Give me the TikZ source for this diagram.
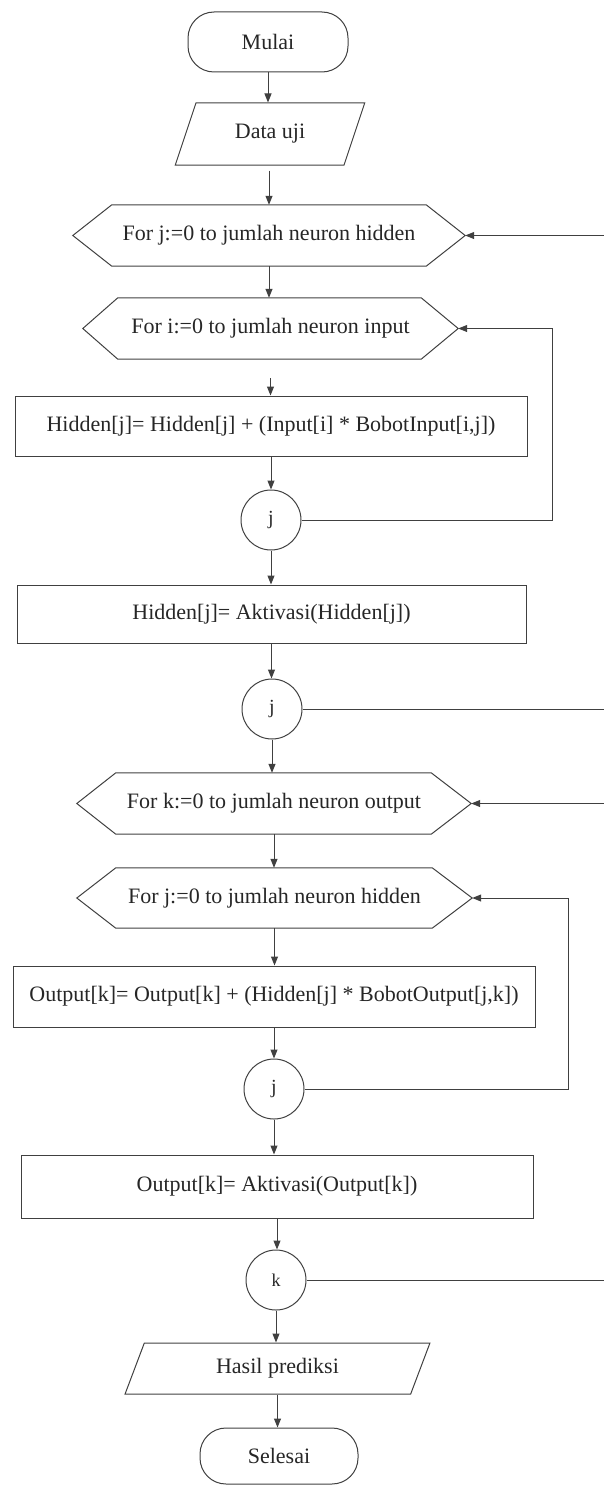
\documentclass[tikz,border=0pt]{standalone}
\usepackage{fontspec}
\setmainfont{Liberation Serif}
\usetikzlibrary{arrows.meta,shapes.geometric}
\begin{document}
\begin{tikzpicture}[x=1pt,y=-1pt,
  every node/.style={font=\fontsize{22}{26}\selectfont, text=black!85},
  ln/.style={draw=black!75, line width=1pt},
  arr/.style={ln, -{Triangle[length=9pt,width=7pt]}},
  term/.style={ln, rectangle, rounded corners=26pt, minimum height=60pt, inner sep=0},
  proc/.style={ln, rectangle, inner sep=0},
  io/.style={ln, trapezium, trapezium stretches=true, inner sep=0},
  conn/.style={ln, circle, minimum size=60pt, inner sep=0, font=\fontsize{20}{24}\selectfont},
  hexa/.style={rectangle, inner sep=0, minimum height=61pt}
]
\useasboundingbox (0,0) rectangle (604,1485);
\clip (0,0) rectangle (604,1485);

% nodes
\node[term, minimum width=160pt] (mulai) at (268,42) {Mulai};
\node[io, trapezium left angle=63, trapezium right angle=117, minimum width=190pt, minimum height=62pt] (data) at (270,134) {Data uji};

\node[hexa, minimum width=392pt] (h1) at (269,235.5) {For j:=0 to jumlah neuron hidden};
\draw[ln] (h1.west) -- ([xshift=39pt]h1.north west) -- ([xshift=-39pt]h1.north east) -- (h1.east) -- ([xshift=-39pt]h1.south east) -- ([xshift=39pt]h1.south west) -- cycle;

\node[hexa, minimum width=375pt] (h2) at (270.5,328.5) {For i:=0 to jumlah neuron input};
\draw[ln] (h2.west) -- ([xshift=35pt]h2.north west) -- ([xshift=-37pt]h2.north east) -- (h2.east) -- ([xshift=-37pt]h2.south east) -- ([xshift=35pt]h2.south west) -- cycle;

\node[proc, minimum width=512pt, minimum height=60pt] (b1) at (271,426) {Hidden[j]= Hidden[j] + (Input[i] * BobotInput[i,j])};
\node[conn] (c1) at (271,520) {j};
\node[proc, minimum width=509pt, minimum height=58pt] (b2) at (271.5,614) {Hidden[j]= Aktivasi(Hidden[j])};
\node[conn] (c2) at (272,709) {j};

\node[hexa, minimum width=394pt] (h3) at (274,803.5) {For k:=0 to jumlah neuron output};
\draw[ln] (h3.west) -- ([xshift=39pt]h3.north west) -- ([xshift=-40pt]h3.north east) -- (h3.east) -- ([xshift=-40pt]h3.south east) -- ([xshift=39pt]h3.south west) -- cycle;

\node[hexa, minimum width=395pt, minimum height=60pt] (h4) at (274.5,898) {For j:=0 to jumlah neuron hidden};
\draw[ln] (h4.west) -- ([xshift=39pt]h4.north west) -- ([xshift=-40pt]h4.north east) -- (h4.east) -- ([xshift=-40pt]h4.south east) -- ([xshift=39pt]h4.south west) -- cycle;

\node[proc, minimum width=522pt, minimum height=61pt] (b3) at (274,996.5) {Output[k]= Output[k] + (Hidden[j] * BobotOutput[j,k])};
\node[conn] (c3) at (274,1089) {j};
\node[proc, minimum width=512pt, minimum height=63pt] (b4) at (277,1186.5) {Output[k]= Aktivasi(Output[k])};
\node[conn, font=\fontsize{18}{22}\selectfont] (c4) at (276,1280) {k};

\node[io, trapezium left angle=66, trapezium right angle=114, minimum width=305pt, minimum height=51pt] (hasil) at (277.5,1368.5) {Hasil prediksi};
\node[term, minimum width=158pt, minimum height=56pt] (selesai) at (279,1456) {Selesai};

% main flow
\draw[arr] (mulai.south) -- (mulai.south |- data.north);
\draw[arr, shorten <=5pt] (data.south -| h1.north) -- (h1.north);
\draw[arr] (h1.south) -- (h1.south |- h2.north);
\draw[arr, shorten <=19pt] (h2.south) -- (h2.south |- b1.north);
\draw[arr] (b1.south) -- (b1.south |- c1.north);
\draw[arr] (c1.south) -- (c1.south |- b2.north);
\draw[arr] (b2.south) -- (b2.south |- c2.north);
\draw[arr] (c2.south) -- (c2.south |- h3.north);
\draw[arr] (h3.south) -- (h3.south |- h4.north);
\draw[arr] (h4.south) -- (h4.south |- b3.north);
\draw[arr] (b3.south) -- (b3.south |- c3.north);
\draw[arr] (c3.south) -- (c3.south |- b4.north);
\draw[arr] (b4.south) -- (b4.south |- c4.north);
\draw[arr] (c4.south) -- (c4.south |- hasil.north);
\draw[arr] (hasil.south) -- (hasil.south |- selesai.north);

% loops
\draw[arr] (c1.east) -- (552,520) -- (552,328.5) -- (h2.east);
\draw[arr] (c2.east) -- (615,709) -- (615,235.5) -- (h1.east);
\draw[arr] (c3.east) -- (568,1089) -- (568,898) -- (h4.east);
\draw[arr] (c4.east) -- (615,1280) -- (615,803.5) -- (h3.east);
\end{tikzpicture}
\end{document}
